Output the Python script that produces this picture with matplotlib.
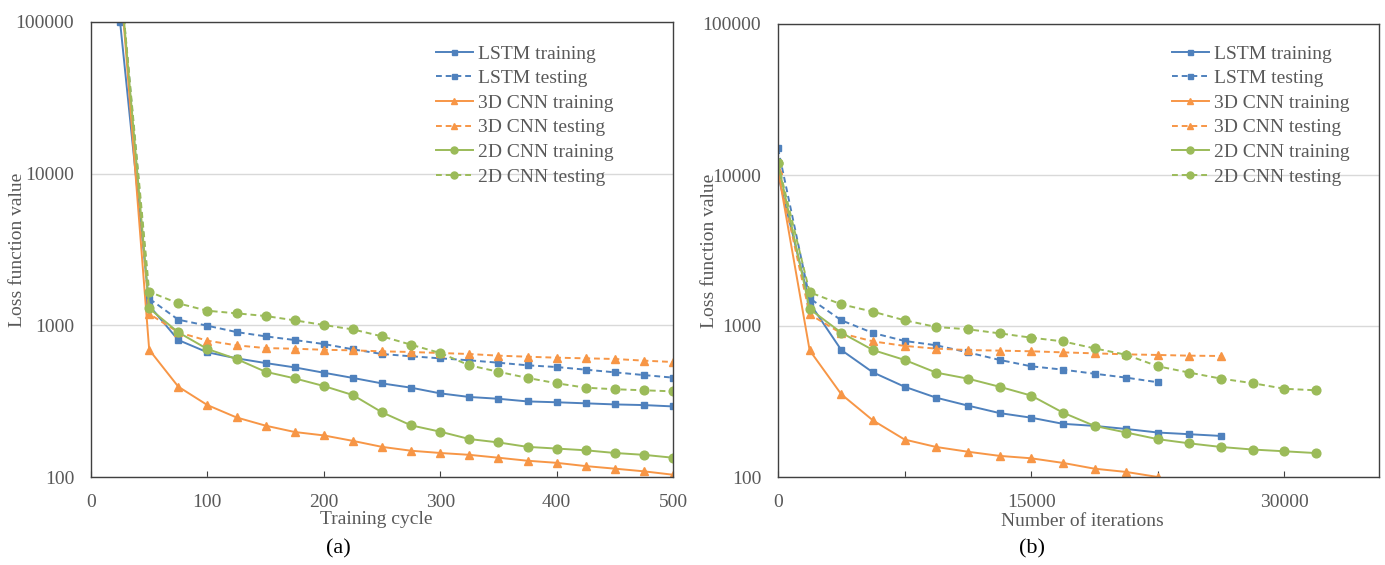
import numpy as np
import matplotlib
matplotlib.use("Agg")
import matplotlib.pyplot as plt

plt.rcParams['font.family'] = ['Liberation Serif', 'DejaVu Serif']

# (a) loss vs training cycle
cycle = [25, 50, 75, 100, 125, 150, 175, 200, 225, 250, 275, 300,
         325, 350, 375, 400, 425, 450, 475, 500]
lstm_train_a = [100000, 1350, 800, 664, 606, 564, 528, 487, 450, 414, 388, 356,
                337, 328, 315, 311, 306, 301, 298, 292]
lstm_test_a = [200000, 1500, 1089, 994, 903, 846, 800, 753, 695, 647, 625, 606,
               588, 567, 545, 531, 510, 490, 470, 452]
cnn3_train_a = [200000, 690, 394, 298, 247, 218, 198, 188, 173, 158, 149, 144,
                140, 134, 128, 124, 118, 113.5, 109, 103.5]
cnn3_test_a = [200000, 1190, 900, 792, 738, 708, 701, 690, 684, 674, 667, 657,
               647, 631, 621, 612, 606, 600, 585, 573]
cnn2_train_a = [200000, 1295, 899, 698, 600, 494, 447, 398, 347, 267, 219, 199,
                178, 169, 158, 154, 150, 144, 140, 134]
cnn2_test_a = [200000, 1665, 1396, 1248, 1200, 1152, 1079, 1005, 940, 846, 745, 657,
               545, 494, 450, 415, 388, 379, 373, 367]

# (b) loss vs number of iterations
iters = [0, 1875, 3750, 5625, 7500, 9375, 11250, 13125, 15000, 16875,
         18750, 20625, 22500, 24375, 26250, 28125, 30000, 31875]
lstm_train_b = [10000, 1420, 693, 493, 396, 335, 297, 265, 247, 225, 218, 208, 197, 192, 187]
lstm_test_b = [15000, 1525, 1091, 899, 796, 745, 669, 596, 541, 514, 483, 455, 424]
cnn3_train_b = [10800, 690, 353, 237, 177, 158, 147, 138, 133, 124, 113.5, 108, 100]
cnn3_test_b = [10800, 1195, 894, 791, 738, 708, 693, 687, 680, 669, 659, 649, 643, 636, 633]
cnn2_train_b = [11950, 1296, 903, 693, 596, 491, 448, 396, 346, 267, 218, 197, 178,
                167, 158, 152, 148, 144]
cnn2_test_b = [11950, 1672, 1392, 1244, 1091, 985, 951, 894, 837, 791, 711, 645, 541,
               491, 448, 418, 384, 375]

labels = ["LSTM training", "LSTM testing", "3D CNN training",
          "3D CNN testing", "2D CNN training", "2D CNN testing"]

blue = '#4F81BD'
orange = '#F79646'
green = '#9BBB59'
grey = '#595959'

styles = [
    dict(color=blue, ls='-', marker='s', ms=4.5),
    dict(color=blue, ls=(0, (3, 2)), marker='s', ms=4.5),
    dict(color=orange, ls='-', marker='^', ms=6),
    dict(color=orange, ls=(0, (3, 2)), marker='^', ms=6),
    dict(color=green, ls='-', marker='o', ms=6.3),
    dict(color=green, ls=(0, (3, 2)), marker='o', ms=6.3),
]

W, H = 1385, 565
fig = plt.figure(figsize=(W / 100, H / 100), dpi=100)


def px_axes(x0, x1, y0, y1):
    return fig.add_axes([x0 / W, 1 - y1 / H, (x1 - x0) / W, (y1 - y0) / H])


def style_axes(ax):
    ax.set_yscale('log')
    ax.set_ylim(100, 100000)
    ax.set_yticks([100, 1000, 10000, 100000])
    ax.set_yticklabels(['100', '1000', '10000', '100000'])
    ax.minorticks_off()
    ax.yaxis.grid(True, color='#d9d9d9', lw=1)
    ax.set_axisbelow(True)
    for s in ax.spines.values():
        s.set_color('#404040')
        s.set_linewidth(1)
    ax.tick_params(axis='y', length=0, pad=12, labelsize=14, labelcolor=grey)
    ax.tick_params(axis='x', direction='in', length=4, color='#404040',
                   pad=12, labelsize=14, labelcolor=grey)


def leg(ax, x, y):
    ax.legend(frameon=False, loc='upper left', bbox_to_anchor=(x / W, 1 - y / H),
              bbox_transform=fig.transFigure, fontsize=14, labelcolor=grey,
              handlelength=1.9, handletextpad=0.25, labelspacing=0.36,
              borderpad=0, borderaxespad=0, markerscale=0.8)


# panel (a)
ax1 = px_axes(91, 673, 22, 477)
series_a = [lstm_train_a, lstm_test_a, cnn3_train_a, cnn3_test_a, cnn2_train_a, cnn2_test_a]
for vals, lab, st in zip(series_a, labels, styles):
    ax1.plot(cycle, vals, label=lab, lw=1.4, **st)
style_axes(ax1)
ax1.set_xlim(0, 500)
ax1.set_xticks([0, 100, 200, 300, 400, 500])
leg(ax1, 436, 45)

# panel (b)
ax2 = px_axes(778, 1379, 24, 477)
series_b = [lstm_train_b, lstm_test_b, cnn3_train_b, cnn3_test_b, cnn2_train_b, cnn2_test_b]
for vals, lab, st in zip(series_b, labels, styles):
    ax2.plot(iters[:len(vals)], vals, label=lab, lw=1.4, **st)
style_axes(ax2)
ax2.set_xlim(0, 35600)
ax2.set_xticks([0, 7500, 15000, 22500, 30000])
ax2.set_xticklabels(['0', '', '15000', '', '30000'])
leg(ax2, 1172, 45)

# axis titles and captions
fig.text(18 / W, 1 - 249.5 / H, "Loss function value", rotation=90, ha='center',
         va='center', fontsize=14, color=grey)
fig.text(710 / W, 1 - 250.5 / H, "Loss function value", rotation=90, ha='center',
         va='center', fontsize=14, color=grey)
fig.text(376 / W, 1 - 520 / H, "Training cycle", ha='center', va='center',
         fontsize=14, color=grey)
fig.text(1082 / W, 1 - 521 / H, "Number of iterations", ha='center', va='center',
         fontsize=14, color=grey)
fig.text(338 / W, 1 - 549 / H, "(a)", ha='center', va='center', fontsize=16, color='black')
fig.text(1032 / W, 1 - 549 / H, "(b)", ha='center', va='center', fontsize=16, color='black')

fig.savefig("out.png", dpi=100)
